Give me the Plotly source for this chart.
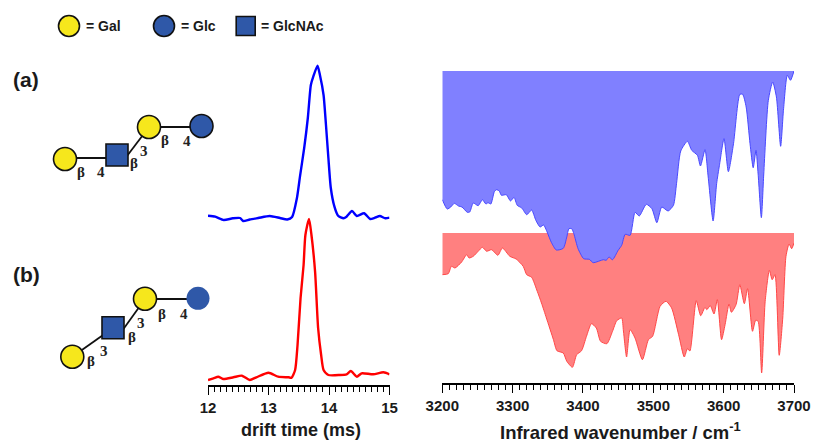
import plotly.graph_objects as go

W, H = 814, 443

# Drift-time traces (ms, arbitrary intensity)
drift_a_t = [12.00,12.12,12.26,12.41,12.53,12.58,12.69,12.83,13.02,13.19,13.31,13.39,13.47,13.52,13.59,13.65,13.70,13.74,13.81,13.85,13.91,13.95,13.99,14.03,14.09,14.15,14.24,14.29,14.38,14.46,14.58,14.68,14.76,14.84,14.93,15.00]
drift_a_i = [9.3,8.3,5,6.7,7,4,5.5,7,9,7,5.5,8,27,48.3,77,107,140,148.3,159.3,150,130,100,67,37,18.3,9.3,6.7,8.3,14,9,11.7,6,7.3,9,6.7,7.3]
drift_b_t = [12.00,12.09,12.17,12.25,12.42,12.56,12.69,12.80,13.00,13.16,13.33,13.38,13.44,13.48,13.53,13.58,13.61,13.67,13.71,13.77,13.82,13.87,13.91,13.99,14.18,14.29,14.36,14.46,14.54,14.73,14.90,15.00]
drift_b_i = [5,6.7,8.3,6,7.7,9.3,5,7.7,12.3,8.3,7.7,7.3,15,40,87,120,150,166,150,113.3,57,30,15,10,10,10.7,14,8.3,11.7,10.7,12.7,10.7]

# Infrared spectra (wavenumber, depletion depth below the top baseline)
ir_a_w = [3200,3207,3212,3217,3223,3228,3235.5,3239,3244,3251,3257,3262,3265,3269,3274,3277,3281,3284,3291,3297,3302,3306.5,3313,3320,3327,3333,3339,3344,3349,3355,3362,3372,3377,3380,3384,3387,3393,3401,3409,3414.5,3429,3433,3437,3442,3450,3455,3460,3467,3474,3480,3490,3498,3505,3512,3521,3528.6,3533,3539,3548.5,3554.6,3562.7,3567,3573.5,3578,3585,3590,3594,3600.5,3606.7,3614,3623,3627,3632,3637.5,3642,3646,3649,3653.6,3657,3663.5,3669.7,3675,3681,3685,3690.5,3695,3700]
ir_a_d = [128.7,138,136,132.3,135,136,141.3,141,132,134.7,128.7,133,131.7,133,120.7,118.7,120,124.3,123.7,130,126.3,134.3,137,143.7,139,149.3,156,154,161,171.3,179,177.3,166,157.7,157.7,162.7,177.7,187.7,188.3,191.7,188.7,189.3,186,188.7,179.3,174.3,163.3,164.3,141.3,145,133.3,137.7,151.7,136,140,134.3,112.7,80,70.3,79.3,84.3,95,78.7,106,150,112.7,94.3,67.7,100.7,72.7,23.3,23.3,36,72.7,96.7,79.3,103,146.7,103,29.3,11,26,75.3,39.3,4.3,9.3,0]
ir_b_w = [3200,3208.5,3213,3218,3227.5,3234.6,3238,3244,3251,3257,3263,3270,3279,3285.5,3296,3305,3315,3320,3327,3335,3341,3348,3358,3363,3372,3377,3385,3391,3398,3405,3412,3419,3425,3434,3442,3448,3455,3457.5,3462,3467,3474,3484.5,3493,3499,3509.6,3518,3526,3536,3544,3548.5,3552,3561,3567.4,3573.5,3576,3581,3586.3,3591,3597,3602,3607.6,3611,3617.6,3623,3629.4,3634,3641,3645.5,3649,3654,3659,3665,3669,3673,3679,3684,3688.6,3693,3696.7,3700]
ir_b_d = [41.7,40.7,33.3,35,29,21.7,25,23.3,18.3,14.3,18.3,16.7,22.3,15,23.3,26,33.3,41.7,44.3,58.3,70,85,106.7,117.7,120,128.3,134.3,121.7,117.7,103.3,90.7,95,108.3,110.7,98.3,87.7,85,98,124,96.7,105,126.7,106.7,103.3,73.3,68.3,75,101.7,124,115.7,118,67.7,82.7,74.3,76.7,72.7,81,66.7,106.7,91.7,71,79.3,71.7,51.7,70.7,55.7,98.3,87.3,88.3,140,68.3,37.3,46.7,41.7,122.3,85,23.3,11,15.7,10]

drift_ticks = [12, 13, 14, 15]
ir_ticks = [3200, 3300, 3400, 3500, 3600, 3700]

# Glycan schematic glyphs: (kind, fill, centre x, centre y, half-size, outline)
YEL, BLU, INK = "#F6E71C", "#2F58A8", "#111111"
glyphs = [
    ("circle", YEL, 69, 26, 10.5, True), ("circle", BLU, 164, 26, 10.5, True), ("rect", BLU, 245.7, 26, 9.5, True),
    ("circle", YEL, 65, 159, 11.5, True), ("rect", BLU, 117, 155, 11, True), ("circle", YEL, 149, 127, 11.5, True), ("circle", BLU, 201.5, 126, 11.5, True),
    ("circle", YEL, 72.3, 356.7, 11.5, True), ("rect", BLU, 113, 327.7, 11, True), ("circle", YEL, 145, 298.7, 11.5, True), ("circle", BLU, 198, 298.3, 11.5, False),
]
bonds = [(65,158,117,158),(127,156,149,127),(149,127,201,127),(72,357,113,328),(122,331,145,299),(145,299,198,299)]
labels = [("= Gal",84,26,14),("= Glc",179,26,14),("= GlcNAc",259,26,14),("(a)",11,80,21),("(b)",11,274,21),
          ("Infrared wavenumber / cm<sup>-1</sup>",498,431,18.5),("drift time (ms)",239,430,18)]
greek = [("β",80.7,172),("4",101,172),("β",134,163),("3",144,151),("β",165,140),("4",187,141),
         ("β",90.7,361),("3",104,351),("β",132,337),("3",141,323),("β",162,314),("4",184,314)]

def px(x): return x / W
def py(y): return 1 - y / H

fig = go.Figure()
fig.add_trace(go.Scatter(x=ir_b_w, y=ir_b_d, xaxis="x2", yaxis="y3", mode="lines", fill="tozeroy",
                         fillcolor="#FF8080", line=dict(color="#FF4848", width=1, shape="spline", smoothing=0.6), hoverinfo="skip"))
fig.add_trace(go.Scatter(x=ir_a_w, y=ir_a_d, xaxis="x2", yaxis="y4", mode="lines", fill="tozeroy",
                         fillcolor="#8080FF", line=dict(color="#4848FF", width=1, shape="spline", smoothing=0.6), hoverinfo="skip"))
fig.add_trace(go.Scatter(x=drift_a_t, y=drift_a_i, xaxis="x", yaxis="y", mode="lines",
                         line=dict(color="#0000FF", width=2.4, shape="spline", smoothing=0.6), hoverinfo="skip"))
fig.add_trace(go.Scatter(x=drift_b_t, y=drift_b_i, xaxis="x", yaxis="y2", mode="lines",
                         line=dict(color="#FF0000", width=2.4, shape="spline", smoothing=0.6), hoverinfo="skip"))

shapes = []
for x0, y0, x1, y1 in bonds:
    shapes.append(dict(type="line", xref="paper", yref="paper", x0=px(x0), y0=py(y0), x1=px(x1), y1=py(y1),
                       line=dict(color=INK, width=1.8)))
for kind, col, cx, cy, r, outline in glyphs:
    shapes.append(dict(type=kind, xref="paper", yref="paper", x0=px(cx-r), x1=px(cx+r), y0=py(cy+r), y1=py(cy-r),
                       fillcolor=col, line=dict(color=INK, width=1.6) if outline else dict(width=0)))

ann = []
for t, x, y, s in labels:
    ann.append(dict(text=t, xref="paper", yref="paper", x=px(x), y=py(y), xanchor="left", yanchor="middle", showarrow=False,
                    font=dict(family="Liberation Sans", size=s, color="#1a1a1a", weight="bold")))
for t, x, y in greek:
    ann.append(dict(text=t, xref="paper", yref="paper", x=px(x), y=py(y), xanchor="center", yanchor="middle", showarrow=False,
                    font=dict(family="Liberation Serif", size=15, color="#222222", weight="bold")))

tickfont = dict(family="Liberation Sans", size=15, color="#1a1a1a", weight="bold")
axcommon = dict(showgrid=False, zeroline=False, showline=True, linecolor="black", linewidth=1.6, automargin=False,
                ticks="outside", ticklen=8, tickwidth=1.4, tickcolor="black", tickfont=tickfont)
hidden = dict(visible=False, showgrid=False, zeroline=False, fixedrange=True, automargin=False)

fig.update_layout(
    width=W, height=H, autosize=False, margin=dict(l=0, r=0, t=0, b=0),
    paper_bgcolor="white", plot_bgcolor="rgba(0,0,0,0)", showlegend=False,
    shapes=shapes, annotations=ann,
    xaxis=dict(domain=[px(208), px(389.5)], range=[12, 15], anchor="y2", tickvals=drift_ticks,
               minor=dict(dtick=0.1, ticks="outside", ticklen=5, tickwidth=1.2, tickcolor="black", showgrid=False), **axcommon),
    xaxis2=dict(domain=[px(442.3), px(794)], range=[3200, 3700], anchor="y3", tickvals=ir_ticks,
                minor=dict(dtick=10, ticks="outside", ticklen=5, tickwidth=1.2, tickcolor="black", showgrid=False), **axcommon),
    yaxis=dict(domain=[py(225), py(55)], range=[0, 170], **hidden),
    yaxis2=dict(domain=[py(385), py(215)], range=[0, 170], **hidden),
    yaxis3=dict(domain=[py(383), py(233)], range=[150, 0], anchor="x2", **hidden),
    yaxis4=dict(domain=[py(383), py(71)], range=[312, 0], anchor="x2", **hidden),
)
fig.write_html("out.html", config=dict(displayModeBar=False),
               post_script="document.body.style.margin='0';")
